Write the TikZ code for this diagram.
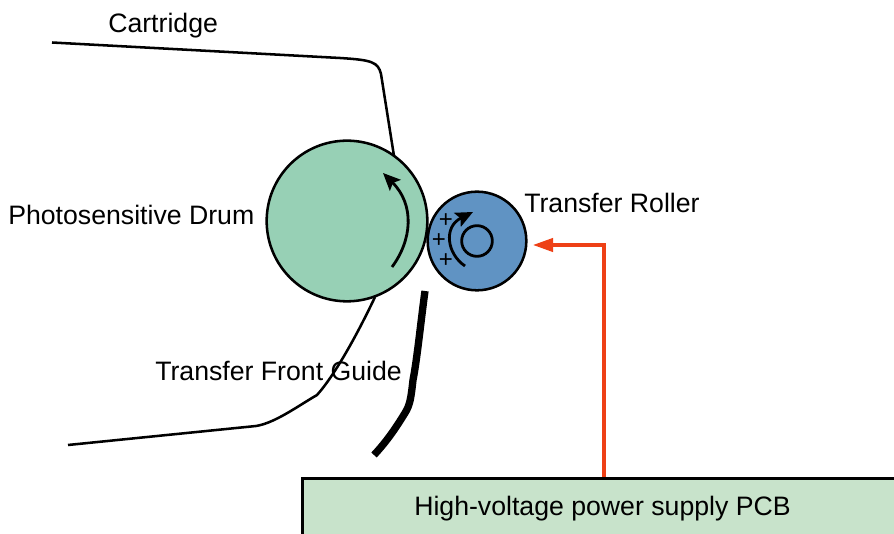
\documentclass[tikz,border=0pt]{standalone}
\usepackage{fontspec}
\setmainfont{Liberation Sans}
\usetikzlibrary{arrows.meta}
\definecolor{drumc}{HTML}{97D0B5}
\definecolor{rollc}{HTML}{6093C3}
\definecolor{pcbc}{HTML}{C8E3CB}
\definecolor{redc}{HTML}{EE4016}
\begin{document}
\begin{tikzpicture}[x=0.75pt,y=-0.75pt,
  outline/.style={draw=black,line width=1.9pt},
  lab/.style={font=\fontsize{20}{22}\selectfont,inner sep=0pt,anchor=base west,text=black},
  curve/.style={draw=black,line width=2.1pt,-{Stealth[length=13pt,width=11.5pt,inset=2.5pt]}},
  plusmark/.style={font=\fontsize{18}{18}\selectfont,inner sep=0pt,text=black},
  thick2/.style={draw=black,line width=1.9pt}]
\useasboundingbox (0,0) rectangle (894,534);
\fill[white] (0,0) rectangle (894,534);
\coordinate (cartA) at (52,42.5);
\coordinate (cartB) at (394,156);
\draw[thick2] (cartA) -- (340,58) .. controls (372,60) and (378,62) .. (381,74) -- (cartB);
\coordinate (guideA) at (68,445);
\coordinate (guideB) at (375,297);
\draw[thick2] (guideA) -- (256,426) .. controls (275,423) and (298,406) .. (317,395) .. controls (335,375) and (358,333) .. (guideB);
\node[circle,outline,fill=drumc,minimum size=120.5pt,inner sep=0pt] (drum) at (347,221) {};
\node[circle,outline,fill=rollc,minimum size=74pt,inner sep=0pt] (roller) at (477,241) {};
\node[circle,draw=black,line width=2.1pt,minimum size=23pt,inner sep=0pt] (hub) at (477,241) {};
\coordinate (d1) at (392,267);
\coordinate (d2) at (383,173);
\draw[curve] (d1) .. controls (412,240) and (415,205) .. (d2);
\coordinate (r1) at (465,266);
\coordinate (r2) at (473,212);
\draw[curve] (r1) .. controls (447,254) and (443,227) .. (r2);
\node[plusmark] (p1) at (446,221) {+};
\node[plusmark] (p2) at (439,241) {+};
\node[plusmark] (p3) at (446,261) {+};
\coordinate (g1) at (425,291);
\coordinate (g2) at (374,455);
\draw[draw=black,line width=5.5pt,line join=round] (g1) .. controls (421,320) and (417,360) .. (413,380) .. controls (411,398) and (410,405) .. (405,413) .. controls (397,426) and (388,440) .. (g2);
\node[draw=black,line width=1.9pt,fill=pcbc,minimum width=450pt,minimum height=60pt,inner sep=0pt,anchor=north west] (pcb) at (301,477) {};
\node[lab] at (108,33) {Cartridge};
\node[lab] at (8,225) {Photosensitive Drum};
\node[lab] at (524,212.5) {Transfer Roller};
\node[lab] at (155,380.5) {Transfer Front Guide};
\node[lab] at (414,515.5) {High-voltage power supply PCB};
\coordinate (arrowTop) at (604,477);
\coordinate (arrowEnd) at (533,245);
\coordinate (arrowTurn) at (604,245);
\draw[draw=redc,line width=2.3pt,-{Triangle[length=15pt,width=10pt]}] (arrowTop) -- (arrowTurn) -- (arrowEnd);
\end{tikzpicture}
\end{document}
